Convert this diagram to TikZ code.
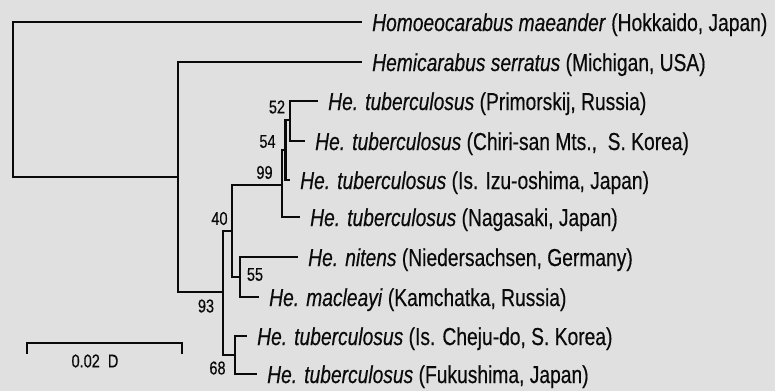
\documentclass[tikz,border=0pt]{standalone}
\usepackage{fontspec}
\setmainfont{Liberation Sans}[FakeStretch=0.785,FakeBold=0.4]
\usepackage{tikz}
\usetikzlibrary{positioning}
\definecolor{PaperGray}{HTML}{E0E0E0}
\definecolor{InkBlack}{HTML}{0A0A0A}
\tikzset{
  branch/.style={InkBlack,line width=2.8pt},
  leaf/.style={anchor=west,inner xsep=10pt,inner ysep=0pt,text height=18pt,text depth=0pt,
    text=InkBlack,font=\fontsize{24.5}{29}\selectfont},
  boot/.style={inner sep=0pt,text=InkBlack,font=\fontsize{18.5}{22}\selectfont},
}
\begin{document}
\begin{tikzpicture}[x=1pt,y=-1pt]
\fill[PaperGray] (0,0) rectangle (775,391);
\useasboundingbox (0,0) rectangle (775,391);

\node[leaf] (homo) at (362,22) {\textit{Homoeocarabus maeander} (Hokkaido, Japan)};
\node[leaf] (hemi) at (362,62) {\textit{Hemicarabus serratus} (Michigan, USA)};
\node[leaf] (prim) at (318,101) {\textit{He. tuberculosus} (Primorskij, Russia)};
\node[leaf] (chiri) at (305,141) {\textit{He. tuberculosus} (Chiri-san Mts.,\ \ S. Korea)};
\node[leaf] (izu) at (290,180) {\textit{He. tuberculosus} (Is. Izu-oshima, Japan)};
\node[leaf] (naga) at (300,217) {\textit{He. tuberculosus} (Nagasaki, Japan)};
\node[leaf] (nitens) at (298,257) {\textit{He. nitens} (Niedersachsen, Germany)};
\node[leaf] (mac) at (259,297) {\textit{He. macleayi} (Kamchatka, Russia)};
\node[leaf] (cheju) at (247,336) {\textit{He. tuberculosus} (Is. Cheju-do, S. Korea)};
\node[leaf] (fuku) at (257,374) {\textit{He. tuberculosus} (Fukushima, Japan)};

\coordinate (root) at (13,100);
\coordinate (hemiclade) at (178,177);
\coordinate (n93) at (223,292);
\coordinate (n40) at (232,231);
\coordinate (n99) at (282,185);
\coordinate (n54) at (285.5,150);
\coordinate (n52) at (290,120);
\coordinate (n55) at (240,277);
\coordinate (n68) at (235,355);

\draw[branch] (root) |- (homo.west) (root) |- (hemiclade);
\draw[branch] (hemiclade) |- (hemi.west) (hemiclade) |- (n93);
\draw[branch] (n93) |- (n40) (n93) |- (n68);
\draw[branch] (n40) |- (n99) (n40) |- (n55);
\draw[branch] (n99) |- (n54) (n99) |- (naga.west);
\draw[branch] (n54) |- (n52) (n54) |- (izu.west);
\draw[branch] (n52) |- (prim.west) (n52) |- (chiri.west);
\draw[branch] (n55) |- (nitens.west) (n55) |- (mac.west);
\draw[branch] (n68) |- (cheju.west) (n68) |- (fuku.west);

\node[boot] (b52) at (277,107) {52};
\node[boot] (b54) at (267.5,141.5) {54};
\node[boot] (b99) at (264.5,172.5) {99};
\node[boot] (b40) at (219.5,218.5) {40};
\node[boot] (b55) at (255,274.5) {55};
\node[boot] (b93) at (206,306) {93};
\node[boot] (b68) at (217.5,368) {68};

\coordinate (barL) at (27,354);
\coordinate (barR) at (182,354);
\draw[branch] (barL) -- ++(0,-11) -| (barR);
\node[boot] (barlab) at (95,361) {0.02\ \ D};
\end{tikzpicture}
\end{document}
